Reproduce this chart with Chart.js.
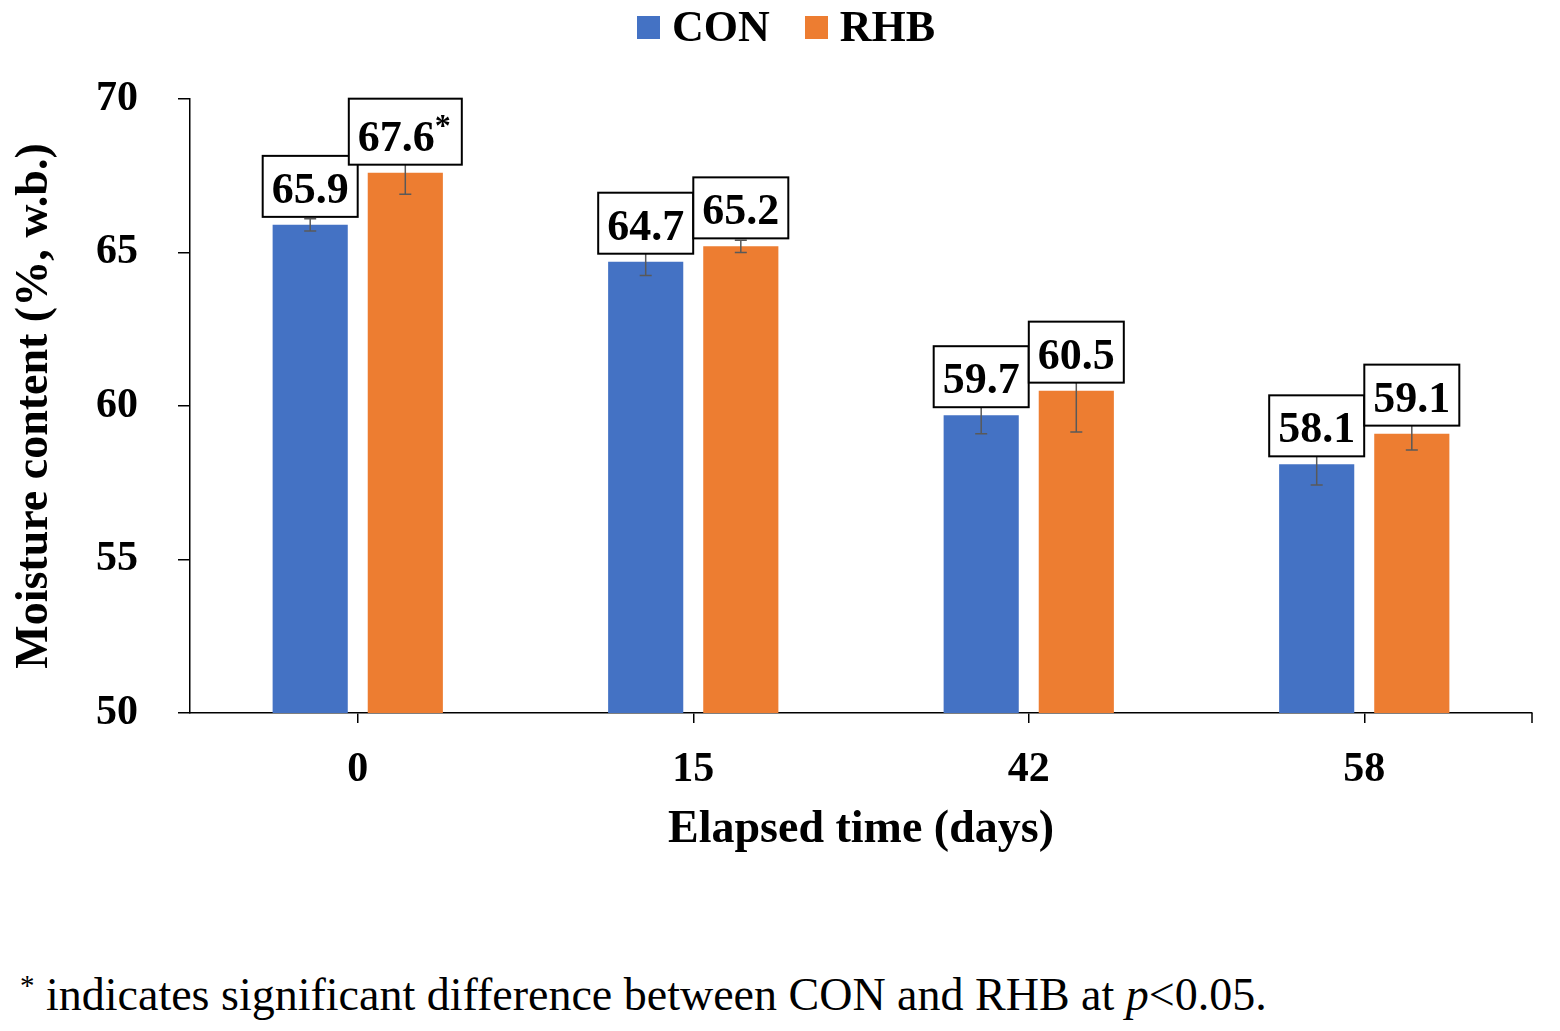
<!DOCTYPE html>
<html>
<head>
<meta charset="utf-8">
<script src="https://cdn.jsdelivr.net/npm/chart.js@4.4.1/dist/chart.umd.min.js"></script>
<style>
  html, body { margin: 0; padding: 0; background: #fff; }
  body { width: 1560px; height: 1031px; position: relative; overflow: hidden; font-family: "Liberation Serif", "Times New Roman", serif; color: #000; }
  #wrap { position: absolute; left: 0; top: 0; width: 1560px; height: 868px; }
  #legend { position: absolute; top: 2px; left: 637px; display: flex; font-weight: bold; font-size: 44px; line-height: 50px; }
  #legend .item { display: flex; align-items: center; margin-right: 35px; }
  #legend .swatch { width: 23px; height: 23px; margin-right: 12px; }
  #note { position: absolute; left: 20px; top: 968px; font-size: 46px; line-height: normal; white-space: nowrap; }
  #note sup { font-size: 29px; vertical-align: 15px; line-height: 0; }
</style>
</head>
<body>
<div id="wrap"><canvas id="chart"></canvas></div>
<div id="legend"></div>
<div id="note"><sup>*</sup> indicates significant difference between CON and RHB at <i>p</i>&lt;0.05.</div>
<script>
// données
const days = ['0', '15', '42', '58'];
const conValues = [65.9, 64.7, 59.7, 58.1];
const rhbValues = [67.6, 65.2, 60.5, 59.1];
const conErrors = [0.2, 0.45, 0.6, 0.67];
const rhbErrors = [0.7, 0.2, 1.35, 0.53];
const rhbStars = [true, false, false, false];
const yTicks = [50, 55, 60, 65, 70];

const SERIF = '"Liberation Serif", "Times New Roman", serif';
Chart.defaults.font.family = SERIF;
Chart.defaults.color = '#000';

// barres d'erreur (dessinées sous les étiquettes)
const errorBars = {
  id: 'errorBars',
  afterDatasetsDraw(chart) {
    const ctx = chart.ctx, y = chart.scales.y;
    ctx.save();
    ctx.strokeStyle = '#595959';
    ctx.lineWidth = 1.5;
    chart.data.datasets.forEach((ds, i) => {
      chart.getDatasetMeta(i).data.forEach((bar, j) => {
        const v = ds.data[j], e = ds.errors[j];
        const top = y.getPixelForValue(v + e), bot = y.getPixelForValue(v - e);
        ctx.beginPath();
        ctx.moveTo(bar.x, top); ctx.lineTo(bar.x, bot);
        ctx.moveTo(bar.x - 6, top); ctx.lineTo(bar.x + 6, top);
        ctx.moveTo(bar.x - 6, bot); ctx.lineTo(bar.x + 6, bot);
        ctx.stroke();
      });
    });
    ctx.restore();
  }
};

// étiquettes encadrées au-dessus des barres
const valueBoxes = {
  id: 'valueBoxes',
  afterDatasetsDraw(chart) {
    const ctx = chart.ctx;
    ctx.save();
    chart.data.datasets.forEach((ds, i) => {
      chart.getDatasetMeta(i).data.forEach((bar, j) => {
        const txt = ds.data[j].toFixed(1);
        const star = ds.stars && ds.stars[j];
        ctx.font = 'bold 44px ' + SERIF;
        const tw = ctx.measureText(txt).width;
        ctx.font = 'bold 32px ' + SERIF;
        const sw = star ? ctx.measureText('*').width : 0;
        const w = tw + sw + (star ? 20 : 18);
        const h = star ? 66 : 61;
        const y1 = bar.y - 8, y0 = y1 - h, x0 = bar.x - w / 2;
        ctx.fillStyle = '#fff';
        ctx.fillRect(x0, y0, w, h);
        ctx.strokeStyle = '#000';
        ctx.lineWidth = 2;
        ctx.strokeRect(x0, y0, w, h);
        ctx.fillStyle = '#000';
        ctx.textAlign = 'left';
        ctx.textBaseline = 'alphabetic';
        ctx.font = 'bold 44px ' + SERIF;
        const base = y1 - 14;
        ctx.fillText(txt, x0 + 9, base);
        if (star) {
          ctx.font = 'bold 32px ' + SERIF;
          ctx.fillText('*', x0 + 9 + tw, base - 15);
        }
      });
    });
    ctx.restore();
  }
};

// petit trait en bout d'axe x
const axisEnd = {
  id: 'axisEnd',
  afterDraw(chart) {
    const {ctx, chartArea} = chart;
    ctx.save();
    ctx.strokeStyle = '#000';
    ctx.lineWidth = 1.5;
    ctx.beginPath();
    ctx.moveTo(chartArea.right, chartArea.bottom);
    ctx.lineTo(chartArea.right, chartArea.bottom + 10);
    ctx.stroke();
    ctx.restore();
  }
};

const chart = new Chart(document.getElementById('chart'), {
  type: 'bar',
  data: {
    labels: days,
    datasets: [
      { label: 'CON', data: conValues, errors: conErrors, backgroundColor: '#4472C4',
        categoryPercentage: 0.567, barPercentage: 0.79 },
      { label: 'RHB', data: rhbValues, errors: rhbErrors, stars: rhbStars, backgroundColor: '#ED7D31',
        categoryPercentage: 0.567, barPercentage: 0.79 }
    ]
  },
  options: {
    responsive: true,
    maintainAspectRatio: false,
    animation: false,
    layout: { padding: { top: 99, right: 28, left: 0, bottom: 0 } },
    plugins: { legend: { display: false }, tooltip: { enabled: false } },
    scales: {
      x: {
        afterFit(scale) { scale.height = 155; },
        border: { color: '#000', width: 1.5 },
        grid: { drawOnChartArea: false, offset: false, tickLength: 10, color: '#000', lineWidth: 1.5 },
        ticks: { padding: 22, font: { size: 42, weight: 'bold' } },
        title: { display: true, text: 'Elapsed time (days)', font: { size: 46, weight: 'bold' }, padding: { top: 5, bottom: 10 } }
      },
      y: {
        min: 50, max: 70,
        afterBuildTicks(scale) { scale.ticks = yTicks.map(v => ({ value: v })); },
        afterFit(scale) { scale.width = 190; },
        border: { color: '#000', width: 1.5 },
        grid: { drawOnChartArea: false, tickLength: 12, color: '#000', lineWidth: 1.5 },
        ticks: { padding: 40, font: { size: 42, weight: 'bold' } },
        title: { display: true, text: 'Moisture content (%, w.b.)', font: { size: 46, weight: 'bold' }, padding: { top: 8, bottom: 0 } }
      }
    }
  },
  plugins: [errorBars, valueBoxes, axisEnd]
});

// légende HTML construite depuis les jeux de données
const legend = document.getElementById('legend');
chart.data.datasets.forEach(ds => {
  const item = document.createElement('span');
  item.className = 'item';
  const sw = document.createElement('span');
  sw.className = 'swatch';
  sw.style.background = ds.backgroundColor;
  item.appendChild(sw);
  item.appendChild(document.createTextNode(ds.label));
  legend.appendChild(item);
});
</script>
</body>
</html>
